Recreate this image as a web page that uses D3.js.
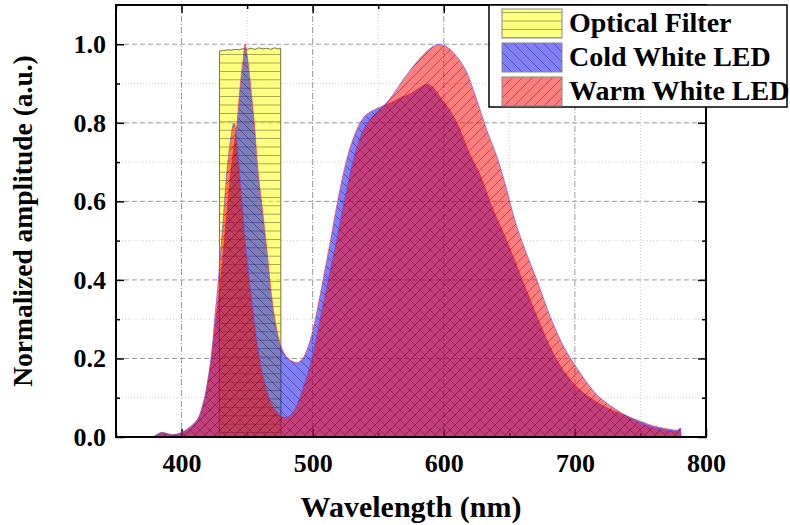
<!DOCTYPE html>
<html>
<head>
<meta charset="utf-8">
<script src="https://cdn.jsdelivr.net/npm/d3@7"></script>
<style>
  body { margin: 0; background: #fff; }
  svg { display: block; }
  svg text { font-family: "Liberation Serif", "Times New Roman", Times, serif; font-weight: bold; fill: #000; }
</style>
</head>
<body>
<svg id="chart" width="790" height="525"></svg>
<script>
// --- DATA ---
const filterNm  = [428.8, 429, 432, 435, 438, 441, 444, 447, 450, 453, 456, 459, 462, 465, 468, 471, 474, 475.6, 475.8];
const filterAmp = [0, 0.983, 0.984, 0.986, 0.985, 0.987, 0.986, 0.989, 0.987, 0.990, 0.987, 0.991, 0.988, 0.990, 0.987, 0.991, 0.988, 0.990, 0];

const coldNm  = [378, 381, 385, 389, 393, 397, 400, 403, 406, 409, 412, 414, 416, 418, 420, 422, 424.5, 426.5, 428.5, 431, 434, 437.7, 440, 442.3, 443.8, 445.5, 446.8, 448.4, 450.7, 452.2, 453.7, 455.5, 458, 461, 465, 469, 472, 475, 478, 482, 488, 492, 496, 500, 505, 509, 513, 519, 526, 532, 538, 544, 550, 556, 562, 568, 575, 582, 587, 592, 597, 603, 610, 620, 628, 637, 648, 660, 672, 684, 698, 713, 726, 739, 750, 760, 770, 778, 780.5, 781];
const coldAmp = [0, 0.006, 0.012, 0.009, 0.006, 0.008, 0.012, 0.017, 0.025, 0.033, 0.045, 0.058, 0.08, 0.105, 0.14, 0.18, 0.25, 0.31, 0.36, 0.44, 0.55, 0.68, 0.74, 0.80, 0.86, 0.92, 0.955, 1.0, 0.955, 0.91, 0.86, 0.80, 0.69, 0.60, 0.48, 0.35, 0.285, 0.24, 0.215, 0.198, 0.19, 0.198, 0.225, 0.27, 0.35, 0.42, 0.49, 0.60, 0.707, 0.77, 0.81, 0.828, 0.838, 0.846, 0.855, 0.865, 0.875, 0.89, 0.898, 0.89, 0.867, 0.84, 0.80, 0.72, 0.665, 0.585, 0.50, 0.40, 0.30, 0.21, 0.14, 0.097, 0.072, 0.054, 0.04, 0.028, 0.021, 0.017, 0.022, 0];

const warmNm  = [378, 381, 385, 389, 393, 397, 400, 403, 406, 409, 412, 414, 416, 418, 420, 422, 424, 425.5, 427, 429, 431, 433, 434.7, 436.3, 437.7, 439, 440, 441, 442, 444, 446.5, 449, 451.5, 454, 457, 460, 463.5, 467, 470.5, 474, 479, 483, 487, 491, 495, 500, 504, 508, 513, 518, 524, 531, 537, 544, 550, 556, 562, 569, 577, 584, 590, 596, 601, 607, 613, 618, 623, 628, 633, 641, 648, 654, 662, 671, 682, 692, 702, 715, 731, 744, 753, 762, 770, 778, 780.5, 781];
const warmAmp = [0, 0.005, 0.011, 0.008, 0.005, 0.007, 0.011, 0.015, 0.021, 0.03, 0.042, 0.056, 0.078, 0.105, 0.145, 0.19, 0.25, 0.31, 0.36, 0.44, 0.52, 0.61, 0.68, 0.73, 0.765, 0.792, 0.80, 0.79, 0.76, 0.69, 0.59, 0.49, 0.41, 0.34, 0.26, 0.195, 0.14, 0.10, 0.075, 0.06, 0.05, 0.056, 0.075, 0.11, 0.15, 0.21, 0.275, 0.34, 0.42, 0.50, 0.60, 0.707, 0.77, 0.81, 0.83, 0.85, 0.875, 0.91, 0.945, 0.972, 0.99, 1.0, 0.996, 0.98, 0.955, 0.925, 0.88, 0.83, 0.78, 0.71, 0.63, 0.555, 0.477, 0.40, 0.30, 0.227, 0.173, 0.114, 0.071, 0.046, 0.032, 0.023, 0.018, 0.015, 0.022, 0];

const xMajor = [400, 500, 600, 700, 800];
const xMinor = [350, 450, 550, 650, 750];
const yMajor = [0, 0.2, 0.4, 0.6, 0.8, 1.0];
const yMinor = [0.1, 0.3, 0.5, 0.7, 0.9];

const seriesNames = ["Optical Filter", "Cold White LED", "Warm White LED"];

const toPoints = (xs, ys) => xs.map((x, i) => ({ x, y: ys[i] }));

// --- LAYOUT ---
const svg = d3.select("#chart");
const plotL = 116, plotR = 706, plotT = 5, plotB = 437;
const serif = "Liberation Serif, Times New Roman, Times, serif";

const x = d3.scaleLinear().domain([350, 800]).range([plotL, plotR]);
const y = d3.scaleLinear().domain([0, 1.1]).range([plotB, plotT]);

// --- HATCH PATTERNS ---
const defs = svg.append("defs");
function makePattern(id, color, kind) {
  const w = 10, h = kind === "horiz" ? 8.4 : 10;
  const p = defs.append("pattern")
    .attr("id", id)
    .attr("patternUnits", "userSpaceOnUse")
    .attr("width", w).attr("height", h);
  p.append("rect").attr("width", w).attr("height", h)
    .attr("fill", color).attr("fill-opacity", 0.5);
  let d;
  if (kind === "horiz") d = `M0,${h / 2}H${w}`;
  else if (kind === "back") d = "M-1,-1L11,11M-1,9L1,11M9,-1L11,1";
  else d = "M-1,11L11,-1M-1,1L1,-1M9,11L11,9";
  p.append("path").attr("d", d)
    .attr("stroke", "#000").attr("stroke-opacity", 0.45)
    .attr("stroke-width", 0.8).attr("fill", "none");
}
makePattern("hatchFilter", "#ffff00", "horiz");
makePattern("hatchCold", "#0000ff", "back");
makePattern("hatchWarm", "#ff0000", "fwd");

// --- GRID ---
const grid = svg.append("g");
grid.selectAll(".gy").data(yMajor.filter(v => v > 0)).enter().append("line")
  .attr("x1", plotL).attr("x2", plotR)
  .attr("y1", d => y(d)).attr("y2", d => y(d))
  .attr("stroke", "#9a9a9a").attr("stroke-width", 1).attr("stroke-dasharray", "5,3");
grid.selectAll(".gym").data(yMinor).enter().append("line")
  .attr("x1", plotL).attr("x2", plotR)
  .attr("y1", d => y(d)).attr("y2", d => y(d))
  .attr("stroke", "#cfcfcf").attr("stroke-width", 1).attr("stroke-dasharray", "1,2");
grid.selectAll(".gx").data(xMajor.filter(v => v < 800)).enter().append("line")
  .attr("y1", plotT).attr("y2", plotB)
  .attr("x1", d => x(d)).attr("x2", d => x(d))
  .attr("stroke", "#9a9a9a").attr("stroke-width", 1).attr("stroke-dasharray", "6,2,1,2");
grid.selectAll(".gxm").data(xMinor.filter(v => v > 350)).enter().append("line")
  .attr("y1", plotT).attr("y2", plotB)
  .attr("x1", d => x(d)).attr("x2", d => x(d))
  .attr("stroke", "#cfcfcf").attr("stroke-width", 1).attr("stroke-dasharray", "1,2");

// --- TICKS (inward on all four sides) ---
function ticks(axis, values, size, pos, fmt) {
  const g = svg.append("g").attr("transform", pos)
    .call(axis.tickValues(values).tickSize(size).tickPadding(10).tickFormat(fmt));
  g.select(".domain").remove();
  g.selectAll(".tick line").attr("stroke", "#000").attr("stroke-width", 1.5);
  return g;
}
const none = () => "";
const gx = ticks(d3.axisBottom(x), xMajor, -8, `translate(0,${plotB})`, d3.format("d"));
ticks(d3.axisBottom(x), xMinor, -4, `translate(0,${plotB})`, none);
ticks(d3.axisTop(x), xMajor, -8, `translate(0,${plotT})`, none);
ticks(d3.axisTop(x), xMinor, -4, `translate(0,${plotT})`, none);
const gy = ticks(d3.axisLeft(y), yMajor, -8, `translate(${plotL},0)`, d3.format(".1f"));
ticks(d3.axisLeft(y), yMinor, -4, `translate(${plotL},0)`, none);
ticks(d3.axisRight(y), yMajor, -8, `translate(${plotR},0)`, none);
ticks(d3.axisRight(y), yMinor, -4, `translate(${plotR},0)`, none);

gx.attr("font-family", serif);
gy.attr("font-family", serif);
gx.selectAll("text").attr("font-size", 26).attr("dy", "0.95em");
gy.selectAll("text").attr("font-size", 26);

// --- AREAS ---
const area = d3.area().x(d => x(d.x)).y0(y(0)).y1(d => y(d.y));
const smooth = d3.area().x(d => x(d.x)).y0(y(0)).y1(d => y(d.y)).curve(d3.curveMonotoneX);

svg.append("path").datum(toPoints(filterNm, filterAmp))
  .attr("d", area).attr("fill", "url(#hatchFilter)")
  .attr("stroke", "#77773a").attr("stroke-width", 1);
svg.append("path").datum(toPoints(coldNm, coldAmp))
  .attr("d", smooth).attr("fill", "url(#hatchCold)")
  .attr("stroke", "#ff3a3a").attr("stroke-opacity", 0.8).attr("stroke-width", 0.8);
svg.append("path").datum(toPoints(warmNm, warmAmp))
  .attr("d", smooth).attr("fill", "url(#hatchWarm)")
  .attr("stroke", "#5a5aff").attr("stroke-opacity", 0.8).attr("stroke-width", 0.8);

// --- FRAME ---
svg.append("rect")
  .attr("x", plotL).attr("y", plotT).attr("width", plotR - plotL).attr("height", plotB - plotT)
  .attr("fill", "none").attr("stroke", "#000").attr("stroke-width", 2);

// --- AXIS TITLES ---
svg.append("text")
  .attr("x", (plotL + plotR) / 2).attr("y", 517)
  .attr("text-anchor", "middle").attr("font-size", 30)
  .attr("font-family", serif)
  .text("Wavelength (nm)");
svg.append("text")
  .attr("transform", `translate(32,${(plotT + plotB) / 2}) rotate(-90)`)
  .attr("text-anchor", "middle").attr("font-size", 27.5)
  .attr("font-family", serif)
  .text("Normalized amplitude (a.u.)");

// --- LEGEND ---
const legend = svg.append("g");
legend.append("rect")
  .attr("x", 489).attr("y", 5).attr("width", 298).attr("height", 102)
  .attr("fill", "#fff").attr("stroke", "#000").attr("stroke-width", 1.5);
const fills = ["url(#hatchFilter)", "url(#hatchCold)", "url(#hatchWarm)"];
seriesNames.forEach((name, i) => {
  const ty = 9 + i * 34;
  legend.append("rect")
    .attr("x", 502).attr("y", ty).attr("width", 60).attr("height", 29)
    .attr("fill", fills[i]).attr("stroke", "#888").attr("stroke-width", 1);
  legend.append("text")
    .attr("x", 569).attr("y", ty + 23)
    .attr("font-size", 28)
    .attr("font-family", serif)
    .text(name);
});
</script>
</body>
</html>
